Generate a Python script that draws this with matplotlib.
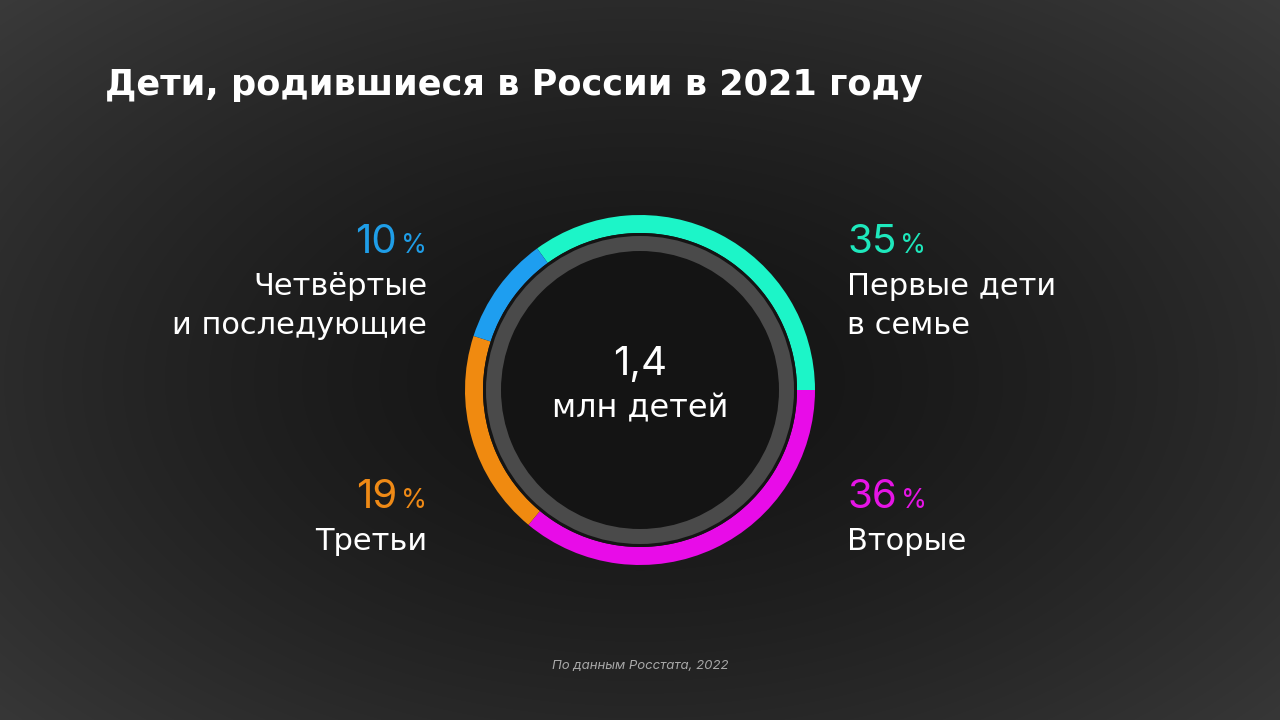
import numpy as np
import matplotlib
matplotlib.use('Agg')
import matplotlib.pyplot as plt

# data
shares = [35, 36, 19, 10]
colors = ["#1cf5c8", "#e80ce8", "#f08a10", "#1e9ef0"]
text_colors = ["#1ee8bc", "#e614e6", "#ef8a16", "#1f9ee8"]
labels = [["Первые дети", "в семье"], ["Вторые"], ["Третьи"], ["Четвёртые", "и последующие"]]
total_text = "1,4"
total_unit = "млн детей"
title = "Дети, родившиеся в России в 2021 году"
source = "По данным Росстата, 2022"

plt.rcParams['font.family'] = ['DejaVu Sans']

W, H = 1280, 720
fig = plt.figure(figsize=(12.8, 7.2), dpi=100)
renderer = fig.canvas.get_renderer()


def fy(y):
    return 1 - y / H


# dark vignette background
bg = fig.add_axes([0, 0, 1, 1])
yy, xx = np.mgrid[0:H, 0:W]
r = np.sqrt(((xx - 640) / 760.0) ** 2 + ((yy - 380) / 460.0) ** 2)
shade = 0.075 + 0.12 * np.clip(r, 0, 1.3) ** 1.4
bg.imshow(np.dstack([shade] * 3), extent=[0, W, 0, H], origin='upper', aspect='auto')
bg.set_xlim(0, W)
bg.set_ylim(0, H)
bg.axis('off')

# donut
ax = fig.add_axes([(640 - 190) / W, (330 - 190) / H, 380 / W, 380 / H])
ax.pie(shares, colors=colors, radius=175, startangle=126, counterclock=False,
       wedgeprops=dict(width=18, linewidth=0))
ax.pie([1], colors=["#141414"], radius=157, wedgeprops=dict(linewidth=0))
ax.pie([1], colors=["#4a4a4a"], radius=154, wedgeprops=dict(width=15, linewidth=0))
ax.set_xlim(-190, 190)
ax.set_ylim(-190, 190)
ax.set_aspect('equal')
ax.axis('off')

fig.text(640 / W, fy(375), total_text, ha='center', va='baseline', color='white',
         fontsize=29, family='Inter')
fig.text(640 / W, fy(417), total_unit, ha='center', va='baseline', color='white',
         fontsize=23)

# title, fitted to the reference width
t = fig.text(105 / W, fy(95), title, ha='left', va='baseline', color='white',
             fontsize=26, fontweight='bold')
w = t.get_window_extent(renderer).width
t.set_fontsize(min(28, 26 * 817 / w))

fig.text(640 / W, fy(669), source, ha='center', va='baseline', color='#a8a8a8',
         fontsize=9.5, style='italic', family='Inter')

# side labels
pos = [(847, 253, 'left'), (847, 508, 'left'), (427, 508, 'right'), (427, 253, 'right')]
for val, lab, tc, (x, y, side) in zip(shares, labels, text_colors, pos):
    num = str(val)
    if side == 'left':
        n = fig.text(x / W, fy(y), num, ha='left', va='baseline', color=tc,
                     fontsize=29, family='Inter')
        bb = n.get_window_extent(renderer)
        fig.text((bb.x1 + 4) / W, fy(y), "%", ha='left', va='baseline', color=tc,
                 fontsize=19, family='Inter')
    else:
        p = fig.text(x / W, fy(y), "%", ha='right', va='baseline', color=tc,
                     fontsize=19, family='Inter')
        bb = p.get_window_extent(renderer)
        fig.text((bb.x0 - 4) / W, fy(y), num, ha='right', va='baseline', color=tc,
                 fontsize=29, family='Inter')
    for i, line in enumerate(lab):
        fig.text(x / W, fy(y + 42 + 39 * i), line, ha=side, va='baseline',
                 color='white', fontsize=22)

fig.savefig("out.png", dpi=100, facecolor='#1a1a1a')
